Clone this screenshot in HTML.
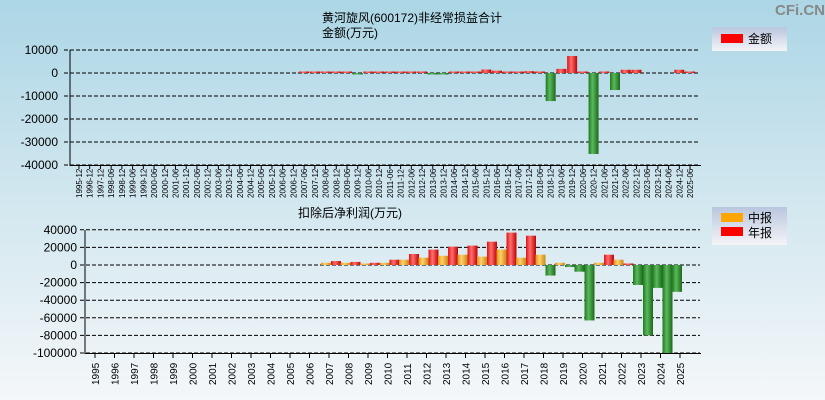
<!DOCTYPE html>
<html><head><meta charset="utf-8"><style>
body{margin:0;width:825px;height:400px;overflow:hidden;font-family:"Liberation Sans","Noto Sans CJK SC",sans-serif}
svg{display:block}
</style></head><body>
<svg id="c" width="825" height="400" xmlns="http://www.w3.org/2000/svg">
<defs>
<linearGradient id="bg" x1="0" y1="0" x2="0" y2="1"><stop offset="0" stop-color="#acd6e6"/><stop offset="0.5" stop-color="#d2e7ef"/><stop offset="1" stop-color="#f4f7f9"/></linearGradient>
<linearGradient id="lg" x1="0" y1="0" x2="0" y2="1"><stop offset="0" stop-color="#b9c6de"/><stop offset="1" stop-color="#f4f4f8"/></linearGradient>
<linearGradient id="gr" x1="0" y1="0" x2="1" y2="0"><stop offset="0" stop-color="#e01010"/><stop offset="0.4" stop-color="#ff7070"/><stop offset="1" stop-color="#c00000"/></linearGradient>
<linearGradient id="gg" x1="0" y1="0" x2="1" y2="0"><stop offset="0" stop-color="#1d7a1d"/><stop offset="0.4" stop-color="#5cb85c"/><stop offset="1" stop-color="#1a6a1a"/></linearGradient>
<linearGradient id="go" x1="0" y1="0" x2="1" y2="0"><stop offset="0" stop-color="#e09010"/><stop offset="0.4" stop-color="#ffd070"/><stop offset="1" stop-color="#c88a10"/></linearGradient>
</defs>
<rect width="825" height="400" fill="url(#bg)"/>
<text x="800" y="15" font-size="15" fill="#888" text-anchor="middle" font-weight="bold">CFi.CN</text>
<text x="412" y="22" font-size="12" text-anchor="middle">黄河旋风(600172)非经常损益合计</text>
<text x="350" y="37" font-size="12" text-anchor="middle">金额(万元)</text>
<text x="350" y="217" font-size="12" text-anchor="middle">扣除后净利润(万元)</text>
<g>
<rect x="712" y="27" width="75" height="24" fill="url(#lg)"/>
<rect x="721" y="34" width="22" height="9" fill="#f00"/>
<text x="748" y="43" font-size="12">金额</text>
</g>
<g>
<rect x="712" y="207" width="75" height="38" fill="url(#lg)"/>
<rect x="721" y="213" width="22" height="9" fill="#ffa500"/>
<text x="748" y="222" font-size="12">中报</text>
<rect x="721" y="227" width="22" height="9" fill="#f00"/>
<text x="748" y="237" font-size="12">年报</text>
</g>
<g id="top"></g><g id="bot"></g>
</svg>
<script>
const topCats=["1995-12","1996-12","1997-12","1998-06","1998-12","1999-06","1999-12","2000-06","2000-12","2001-06","2001-12","2002-06","2002-12","2003-06","2003-12","2004-06","2004-12","2005-06","2005-12","2006-06","2006-12","2007-06","2007-12","2008-06","2008-12","2009-06","2009-12","2010-06","2010-12","2011-06","2011-12","2012-06","2012-12","2013-06","2013-12","2014-06","2014-12","2015-06","2015-12","2016-06","2016-12","2017-06","2017-12","2018-06","2018-12","2019-06","2019-12","2020-06","2020-12","2021-06","2021-12","2022-06","2022-12","2023-06","2023-12","2024-06","2024-12","2025-06"];
const topVals=[null,null,null,null,null,null,null,null,null,null,null,null,null,null,null,null,null,null,null,null,null,500,500,500,500,500,-200,500,500,500,500,500,500,-300,-300,400,400,400,1500,1000,400,400,800,400,-12200,1800,7400,300,-35200,500,-7400,1400,1400,0,0,0,1400,500];
const topTicks=[10000,0,-10000,-20000,-30000,-40000];
const botYears=["1995","1996","1997","1998","1999","2000","2001","2002","2003","2004","2005","2006","2007","2008","2009","2010","2011","2012","2013","2014","2015","2016","2017","2018","2019","2020","2021","2022","2023","2024","2025"];
const botMid=[null,null,null,null,null,null,null,null,null,null,null,null,2500,2500,1500,2500,6000,8300,10500,11700,9500,17500,8300,11700,2500,-7600,2500,6000,-22700,-26000,-30500];
const botAnnual=[null,null,null,null,null,null,null,null,null,null,null,null,4500,3500,2500,6000,12500,17500,20800,22000,26500,36800,33300,-12000,-2300,-63000,11700,1500,-80000,-100000,null];
const botTicks=[40000,20000,0,-20000,-40000,-60000,-80000,-100000];
const NS="http://www.w3.org/2000/svg";
function mk(p,t,a){const e=document.createElementNS(NS,t);for(const k in a)e.setAttribute(k,a[k]);p.appendChild(e);return e;}
const T=document.getElementById('top');
const tx=i=>79+i*10.72, ty=v=>73-v*23/10000;
topTicks.forEach(v=>{
 const l=mk(T,'line',{x1:64,x2:700,y1:ty(v),y2:ty(v),stroke:'#000','stroke-dasharray':'4,2','stroke-width':1});
 
 const t=mk(T,'text',{x:58,y:ty(v)+4,'font-size':12,'text-anchor':'end'});t.textContent=v;
 
});
mk(T,'line',{x1:70,x2:70,y1:50,y2:166,stroke:'#000'});
mk(T,'line',{x1:70,x2:701,y1:165.5,y2:165.5,stroke:'#000'});
topCats.forEach((c,i)=>{
 mk(T,'line',{x1:tx(i),x2:tx(i),y1:165,y2:169,stroke:'#000'});
 const t=mk(T,'text',{x:0,y:0,'font-size':8,transform:`translate(${tx(i)+3},198) rotate(-90)`});t.textContent=c;
 
 const v=topVals[i]; if(v===null||v===0)return;
 const y0=ty(0),y1=ty(v),h=Math.max(1.5,Math.abs(y1-y0));
 const r=mk(T,'rect',{x:tx(i)-5,y:v>0?y0-h:y0,width:10,height:h,fill:v>0?'url(#gr)':'url(#gg)'});
 
});
const B=document.getElementById('bot');
const bx=i=>95+i*19.5, by=v=>265-v*17.6/20000;
botTicks.forEach(v=>{
 const l=mk(B,'line',{x1:80,x2:700,y1:by(v),y2:by(v),stroke:'#000','stroke-dasharray':'4,2'});
 
 const t=mk(B,'text',{x:77,y:by(v)+4,'font-size':12,'text-anchor':'end'});t.textContent=v;
 
});
mk(B,'line',{x1:85,x2:85,y1:230,y2:354,stroke:'#000'});
mk(B,'line',{x1:85,x2:701,y1:353.5,y2:353.5,stroke:'#000'});
botYears.forEach((y,i)=>{
 mk(B,'line',{x1:bx(i),x2:bx(i),y1:353,y2:358,stroke:'#000'});
 const t=mk(B,'text',{x:0,y:0,'font-size':10,transform:`translate(${bx(i)+4},385) rotate(-90)`});t.textContent=y;
 
 [[botMid[i],-8,'url(#go)','mid'],[botAnnual[i],2,'url(#gr)','annual']].forEach(([v,o,f,n])=>{
  if(v===null)return;
  const y0=by(0),y1=by(v),h=Math.max(1.5,Math.abs(y1-y0));
  const r=mk(B,'rect',{x:bx(i)+o,y:v>0?y0-h:y0,width:10,height:h,fill:v>0?f:'url(#gg)'});
  
 });
});
</script>
</body></html>
